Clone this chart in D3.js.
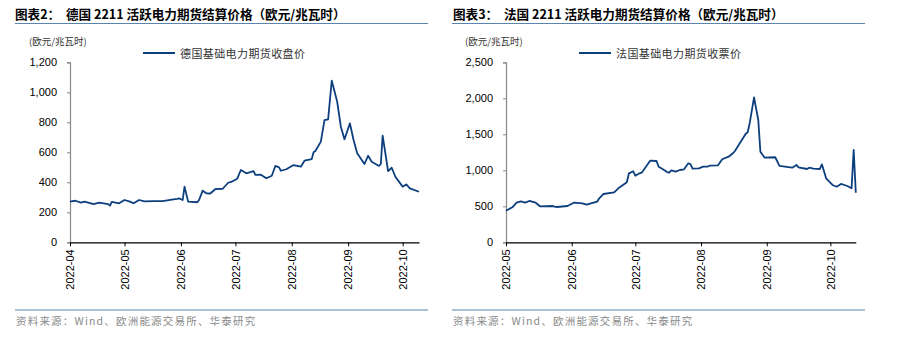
<!DOCTYPE html>
<html><head><meta charset="utf-8">
<script src="https://cdn.jsdelivr.net/npm/d3@7"></script>
<style>
body{margin:0;background:#fff;}
svg{display:block;font-family:"Liberation Sans",Arial,sans-serif;}
.cjk{font-family:"Noto Sans CJK SC",sans-serif;}
</style></head><body>
<svg id="c" width="900" height="358"></svg>
<script>
// ---- Data ----
const deTitle = "图表2：  德国 2211 活跃电力期货结算价格（欧元/兆瓦时）";
const frTitle = "图表3：  法国 2211 活跃电力期货结算价格（欧元/兆瓦时）";
const deLegend = "德国基础电力期货收盘价";
const frLegend = "法国基础电力期货收票价";
const unitLabel = "(欧元/兆瓦时)";
const sourceText = "资料来源：Wind、欧洲能源交易所、华泰研究";

const deDates = ["2022-04-01","2022-04-04","2022-04-07","2022-04-09","2022-04-14","2022-04-17","2022-04-22","2022-04-23","2022-04-24","2022-04-28",
"2022-05-01","2022-05-04","2022-05-06","2022-05-09","2022-05-12","2022-05-17","2022-05-22","2022-05-27","2022-05-30","2022-05-31",
"2022-06-02","2022-06-03","2022-06-05","2022-06-10","2022-06-11","2022-06-13","2022-06-15","2022-06-17","2022-06-20","2022-06-24","2022-06-27","2022-06-29",
"2022-07-02","2022-07-04","2022-07-07","2022-07-11","2022-07-12","2022-07-15","2022-07-18","2022-07-21","2022-07-23","2022-07-25","2022-07-26","2022-07-29",
"2022-08-02","2022-08-06","2022-08-08","2022-08-12","2022-08-13","2022-08-14","2022-08-17","2022-08-19","2022-08-21","2022-08-23","2022-08-26","2022-08-28","2022-08-30",
"2022-09-02","2022-09-04","2022-09-06","2022-09-10","2022-09-12","2022-09-14","2022-09-18","2022-09-19","2022-09-20","2022-09-23","2022-09-25","2022-09-27",
"2022-10-01","2022-10-03","2022-10-05","2022-10-10"];
const deValues = [271,277,264,271,255,264,255,244,269,260,
282,271,260,282,273,275,275,284,289,293,
282,371,271,267,282,344,327,324,355,357,397,404,
424,482,460,475,449,451,427,444,509,500,477,487,
515,504,544,555,600,609,671,815,820,1077,937,771,687,
793,682,593,522,577,537,509,522,711,475,497,437,
371,386,360,337];

const frDates = ["2022-05-01","2022-05-04","2022-05-06","2022-05-08","2022-05-10","2022-05-12","2022-05-15","2022-05-17","2022-05-23","2022-05-25","2022-05-30",
"2022-06-02","2022-06-06","2022-06-08","2022-06-13","2022-06-14","2022-06-16","2022-06-21","2022-06-23","2022-06-27","2022-06-28","2022-06-30",
"2022-07-01","2022-07-03","2022-07-04","2022-07-08","2022-07-11","2022-07-12","2022-07-14","2022-07-16","2022-07-17","2022-07-18","2022-07-20","2022-07-22","2022-07-24","2022-07-26","2022-07-27","2022-07-28","2022-07-31",
"2022-08-02","2022-08-04","2022-08-05","2022-08-09","2022-08-11","2022-08-14","2022-08-16","2022-08-17","2022-08-22","2022-08-23","2022-08-24","2022-08-26","2022-08-28","2022-08-29","2022-08-31",
"2022-09-05","2022-09-07","2022-09-13","2022-09-15","2022-09-16","2022-09-20","2022-09-21","2022-09-23","2022-09-26","2022-09-27","2022-09-29",
"2022-10-02","2022-10-04","2022-10-06","2022-10-09","2022-10-11","2022-10-12","2022-10-13"];
const frValues = [439,486,550,569,550,574,550,500,504,490,504,
550,541,522,564,611,671,694,750,833,958,986,
925,958,967,1133,1129,1050,1014,976,967,1000,981,1004,1014,1097,1087,1022,1028,
1050,1050,1064,1069,1153,1189,1236,1268,1504,1528,1661,2014,1699,1258,1175,
1181,1060,1036,1074,1042,1018,1036,1022,1018,1083,889,
796,772,810,782,750,1282,689];

const deTicksY = [0,200,400,600,800,1000,1200];
const frTicksY = [0,500,1000,1500,2000,2500];
const deTicksX = ["2022-04-01","2022-05-01","2022-06-01","2022-07-01","2022-08-01","2022-09-01","2022-10-01"];
const frTicksX = ["2022-05-01","2022-06-01","2022-07-01","2022-08-01","2022-09-01","2022-10-01"];

// ---- Drawing ----
const parse = d3.timeParse("%Y-%m-%d");
const svg = d3.select("#c");
const lineColor = "#0d3f7e";
const ruleColor = "#5b84b1";

function panel(o){
  const g = svg.append("g");
  // title
  g.append("text").attr("class","cjk").attr("x",o.titleX).attr("y",19)
    .attr("font-size",12.6).attr("font-weight","bold").attr("fill","#000")
    .attr("xml:space","preserve").style("white-space","pre").text(o.title);
  g.append("line").attr("x1",o.ruleX0).attr("x2",o.ruleX1).attr("y1",23.5).attr("y2",23.5)
    .attr("stroke",ruleColor).attr("stroke-width",1.2);
  // unit
  g.append("text").attr("class","cjk").attr("x",o.unitX).attr("y",45)
    .attr("font-size",9.5).attr("fill","#333").text(unitLabel);
  // legend
  g.append("line").attr("x1",o.legX).attr("x2",o.legX+32).attr("y1",53).attr("y2",53)
    .attr("stroke",lineColor).attr("stroke-width",2);
  g.append("text").attr("class","cjk").attr("x",o.legX+37).attr("y",57.5)
    .attr("font-size",11).attr("fill","#333").attr("letter-spacing",0.4).text(o.legend);

  const x = d3.scaleTime().domain([parse(o.dates[0]), parse(o.xEnd)]).range([o.x0, o.x1]);
  const y = d3.scaleLinear().domain([0, o.yTicks[o.yTicks.length-1]]).range([242.3, 62.3]);

  // y axis
  const ya = g.append("g").attr("transform",`translate(${o.x0},0)`)
    .call(d3.axisLeft(y).tickValues(o.yTicks).tickFormat(d3.format(",")).tickSize(3).tickPadding(10));
  ya.select(".domain").attr("stroke","#888").attr("stroke-width",1.2);
  ya.selectAll(".tick line").attr("stroke","#888");
  ya.selectAll("text").attr("font-size",11).attr("fill","#000").attr("font-family","Liberation Sans, Arial, sans-serif");

  // x axis
  const xa = g.append("g").attr("transform",`translate(0,242.3)`)
    .call(d3.axisBottom(x).tickValues(o.xTicks.map(parse)).tickFormat(d3.timeFormat("%Y-%m")).tickSize(4).tickSizeOuter(0));
  xa.select(".domain").attr("stroke","#000").attr("stroke-width",1.2);
  xa.selectAll(".tick line").attr("stroke","#000");
  xa.selectAll("text").attr("font-size",11).attr("fill","#000").attr("font-family","Liberation Sans, Arial, sans-serif")
    .attr("transform","rotate(-90)").attr("text-anchor","end").attr("x",-7).attr("y",0).attr("dy","0.35em");

  // line
  const pts = o.dates.map((d,i)=>[parse(d), o.values[i]]);
  g.append("path").datum(pts).attr("fill","none").attr("stroke",lineColor).attr("stroke-width",1.8)
    .attr("stroke-linejoin","round")
    .attr("d", d3.line().x(d=>x(d[0])).y(d=>y(d[1])));

  // footer
  g.append("line").attr("x1",o.ruleX0).attr("x2",o.ruleX1).attr("y1",310).attr("y2",310)
    .attr("stroke",ruleColor).attr("stroke-width",1.2);
  g.append("text").attr("class","cjk").attr("x",o.ruleX0+1).attr("y",325)
    .attr("font-size",10.5).attr("fill","#8a8a8a").attr("letter-spacing",1.2).text(sourceText);
}

panel({title:deTitle, titleX:15, ruleX0:15, ruleX1:428, unitX:29, legX:143, legend:deLegend,
  dates:deDates, values:deValues, xEnd:"2022-10-10", x0:70, x1:419, yTicks:deTicksY, xTicks:deTicksX});
panel({title:frTitle, titleX:453, ruleX0:452, ruleX1:865, unitX:465, legX:579, legend:frLegend,
  dates:frDates, values:frValues, xEnd:"2022-10-13", x0:506, x1:855.8, yTicks:frTicksY, xTicks:frTicksX});
</script></body></html>
